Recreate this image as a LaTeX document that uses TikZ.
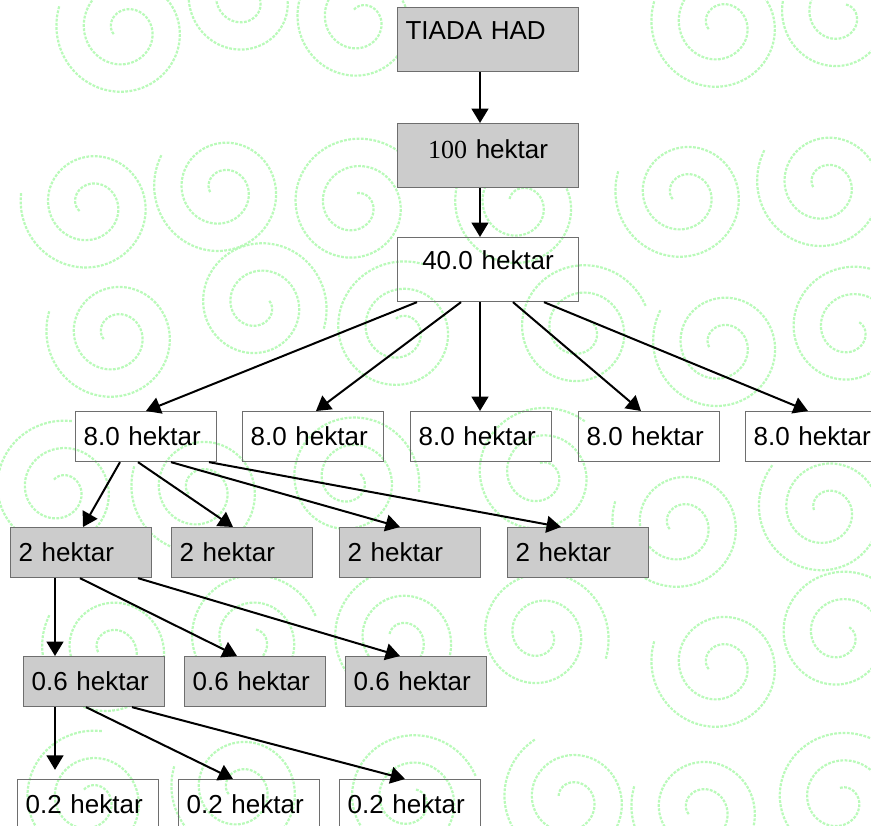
\documentclass[tikz,border=0pt]{standalone}
\usepackage{fontspec}
\setmainfont{Liberation Sans}
\newfontfamily\timesnum{Liberation Serif}
\usetikzlibrary{arrows.meta}

\definecolor{boxgray}{RGB}{204,204,204}
\definecolor{boxline}{RGB}{110,110,110}
\definecolor{swirl}{RGB}{185,250,185}
\newcommand{\hfont}{\fontsize{18.5pt}{22pt}\selectfont}

\tikzset{
  hbox/.style={rectangle, draw=boxline, line width=0.8pt, anchor=north west,
    minimum height=1.25cm, text width=3.125cm, inner xsep=0.2cm, inner ysep=0pt,
    align=left, font=\hfont},
  hgray/.style={hbox, fill=boxgray},
  bigbox/.style={hbox, minimum height=1.6cm, text width=4.125cm, text depth=0.46cm,
    align=center},
  harr/.style={-{Triangle[length=0.36cm, width=0.42cm]}, line width=0.05cm},
  swirlline/.style={swirl, line width=0.055cm, dash pattern=on 2pt off 1pt}
}

% one background swirl: centre x, centre y, turn
\newcommand{\swirlat}[3]{%
  \draw[swirlline, rotate around={#3:(#1,#2)}] plot[domain=0:760, samples=90, smooth]
    ({#1+(12+0.0763*\x)*cos(\x)}, {#2+(12+0.0763*\x)*sin(\x)});}

\begin{document}
\begin{tikzpicture}[x=0.025cm, y=-0.025cm]
    \useasboundingbox (0,0) rectangle (871,825);

    % Background swirls
    \swirlat{125}{30}{200}   \swirlat{245}{0}{40}    \swirlat{360}{20}{120}
    \swirlat{720}{25}{200}   \swirlat{840}{15}{60}
    \swirlat{90}{205}{210}   \swirlat{222}{190}{190} \swirlat{355}{205}{80}
    \swirlat{520}{205}{150}  \swirlat{684}{195}{200} \swirlat{825}{185}{190}
    \swirlat{115}{335}{200}  \swirlat{258}{305}{20}  \swirlat{400}{330}{110}
    \swirlat{580}{330}{60}   \swirlat{721}{345}{190} \swirlat{850}{330}{40}
    \swirlat{60}{490}{120}   \swirlat{200}{490}{200} \swirlat{350}{480}{30}
    \swirlat{540}{475}{90}   \swirlat{681}{525}{200} \swirlat{826}{510}{180}
    \swirlat{110}{650}{190}  \swirlat{250}{640}{60}  \swirlat{400}{640}{150}
    \swirlat{540}{635}{20}   \swirlat{720}{665}{200} \swirlat{840}{635}{40}
    \swirlat{90}{800}{120}   \swirlat{240}{790}{200} \swirlat{410}{800}{60}
    \swirlat{570}{800}{160}  \swirlat{700}{810}{200} \swirlat{840}{800}{90}

    % Top of the chain
    \node[bigbox, fill=boxgray, align=left] (tiada) at (397,7) {TIADA HAD};
    \node[bigbox, fill=boxgray, text depth=0.34cm] (ha100) at (397,123) {{\timesnum 100} hektar};
    \node[bigbox] (ha40) at (397,237) {40.0 hektar};

    % Row of 8.0 hektar
    \node[hbox] (ha8a) at (75,411) {8.0 hektar};
    \node[hbox] (ha8b) at (242,411) {8.0 hektar};
    \node[hbox] (ha8c) at (410,411) {8.0 hektar};
    \node[hbox] (ha8d) at (578,411) {8.0 hektar};
    \node[hbox] (ha8e) at (745,411) {8.0 hektar};

    % Row of 2 hektar
    \node[hgray] (ha2a) at (10,527) {2 hektar};
    \node[hgray] (ha2b) at (171,527) {2 hektar};
    \node[hgray] (ha2c) at (339,527) {2 hektar};
    \node[hgray] (ha2d) at (507,527) {2 hektar};

    % Row of 0.6 hektar
    \node[hgray] (ha06a) at (23,656) {0.6 hektar};
    \node[hgray] (ha06b) at (184,656) {0.6 hektar};
    \node[hgray] (ha06c) at (345,656) {0.6 hektar};

    % Row of 0.2 hektar
    \node[hbox] (ha02a) at (17,779) {0.2 hektar};
    \node[hbox] (ha02b) at (178,779) {0.2 hektar};
    \node[hbox] (ha02c) at (339,779) {0.2 hektar};

    % Arrows down the chain
    \draw[harr] (tiada.south -| 480,0) -- (ha100.north -| 480,0);
    \draw[harr] (ha100.south -| 480,0) -- (ha40.north -| 480,0);

    % 40.0 hektar to 8.0 hektar
    \draw[harr] (ha40.south -| 417,0) -- (ha8a.north -| 146,0);
    \draw[harr] (ha40.south -| 461,0) -- (ha8b.north -| 316,0);
    \draw[harr] (ha40.south -| 480,0) -- (ha8c.north -| 480,0);
    \draw[harr] (ha40.south -| 513,0) -- (ha8d.north -| 641,0);
    \draw[harr] (ha40.south -| 544,0) -- (ha8e.north -| 808,0);

    % 8.0 hektar to 2 hektar
    \draw[harr] (ha8a.south -| 120,0) -- (ha2a.north -| 83,0);
    \draw[harr] (ha8a.south -| 138,0) -- (ha2b.north -| 233,0);
    \draw[harr] (ha8a.south -| 171,0) -- (ha2c.north -| 400,0);
    \draw[harr] (ha8a.south -| 209,0) -- (ha2d.north -| 561,0);

    % 2 hektar to 0.6 hektar
    \draw[harr] (ha2a.south -| 55,0) -- (ha06a.north -| 55,0);
    \draw[harr] (ha2a.south -| 80,0) -- (ha06b.north -| 237,0);
    \draw[harr] (ha2a.south -| 138,0) -- (ha06c.north -| 400,0);

    % 0.6 hektar to 0.2 hektar
    \draw[harr, shorten >=0.23cm] (ha06a.south -| 55,0) -- (ha02a.north -| 55,0);
    \draw[harr] (ha06a.south -| 86,0) -- (ha02b.north -| 233,0);
    \draw[harr] (ha06a.south -| 132,0) -- (ha02c.north -| 405,0);
\end{tikzpicture}
\end{document}
